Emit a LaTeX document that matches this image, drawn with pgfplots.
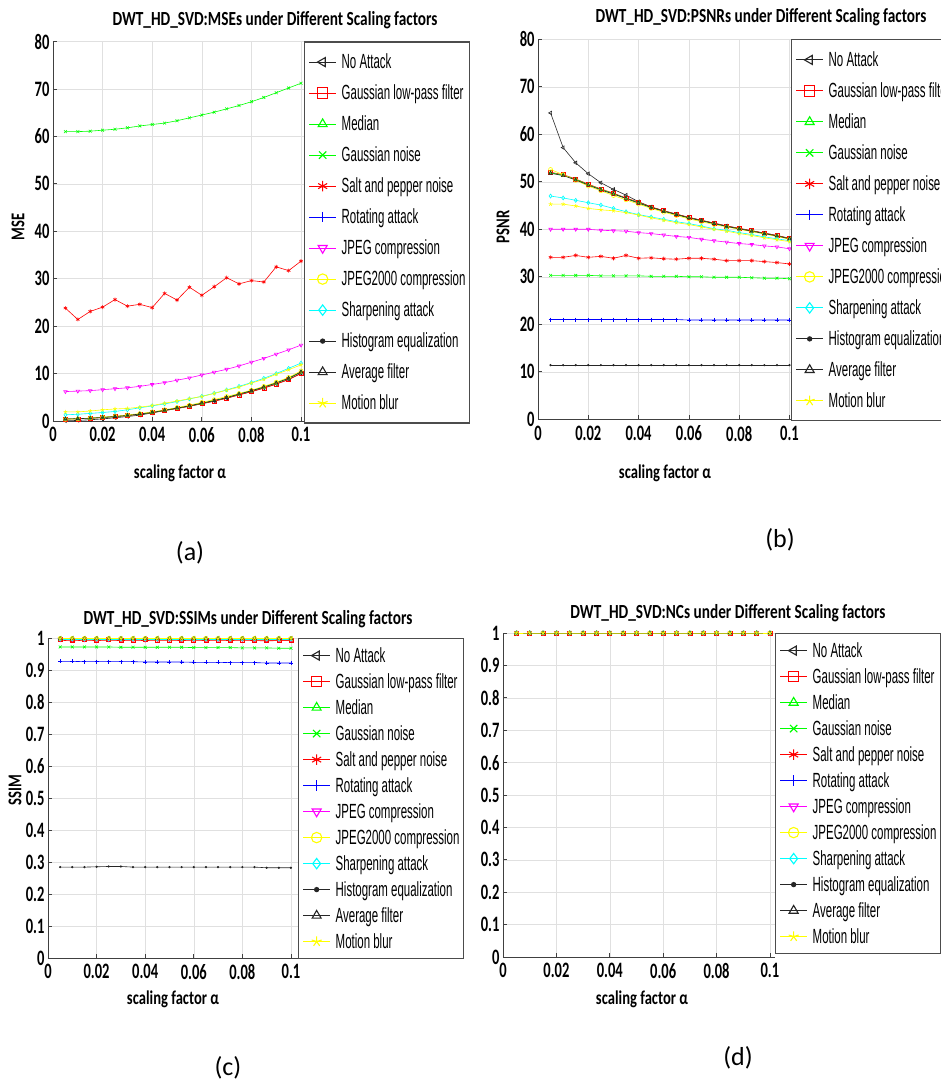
\documentclass[border=0pt]{standalone}
\usepackage{fontspec}
\setmainfont{Carlito}
\newfontfamily\legfont[FakeStretch=0.56]{Liberation Sans}
\newfontfamily\tickfont[FakeStretch=0.66]{Carlito}
\newfontfamily\ttlfont[FakeStretch=0.765]{Carlito}
\newfontfamily\labfont[FakeStretch=0.75]{Carlito}
\usepackage{pgfplots}
\usepackage{pgfplotstable}
\pgfplotsset{compat=1.18}

\definecolor{mred}{rgb}{1,0,0}
\definecolor{mgreen}{rgb}{0,1,0}
\definecolor{mblue}{rgb}{0,0,1}
\definecolor{mmag}{rgb}{1,0,1}
\definecolor{myel}{rgb}{1,1,0}
\definecolor{mcyan}{rgb}{0,1,1}
\definecolor{mblack}{rgb}{0.15,0.15,0.15}

\pgfdeclareplotmark{triL}{%
  \pgfpathmoveto{\pgfqpoint{-\pgfplotmarksize}{0pt}}%
  \pgfpathlineto{\pgfqpoint{.5\pgfplotmarksize}{-.866\pgfplotmarksize}}%
  \pgfpathlineto{\pgfqpoint{.5\pgfplotmarksize}{.866\pgfplotmarksize}}%
  \pgfpathclose\pgfusepathqstroke}
\pgfdeclareplotmark{triD}{%
  \pgfpathmoveto{\pgfqpoint{0pt}{-\pgfplotmarksize}}%
  \pgfpathlineto{\pgfqpoint{.866\pgfplotmarksize}{.5\pgfplotmarksize}}%
  \pgfpathlineto{\pgfqpoint{-.866\pgfplotmarksize}{.5\pgfplotmarksize}}%
  \pgfpathclose\pgfusepathqstroke}

% MSE
\pgfplotstableread{
x     na     lpf   med   gn    sp    rot  jpg   jk    sh    he    av    mb
0.005 0.023  0.41  0.42  61.0  23.8  516  6.2   0.36  1.30  4712  0.43  1.92
0.010 0.124  0.46  0.47  61.0  21.4  516  6.3   0.46  1.42  4712  0.48  1.92
0.015 0.259  0.56  0.58  61.1  23.1  516  6.4   0.61  1.60  4712  0.59  2.10
0.020 0.440  0.72  0.75  61.3  24.0  517  6.6   0.80  1.79  4712  0.76  2.36
0.025 0.681  0.91  0.94  61.5  25.6  517  6.8   1.01  2.01  4712  0.95  2.53
0.030 0.940  1.12  1.16  61.8  24.2  517  7.0   1.27  2.36  4712  1.17  2.65
0.035 1.239  1.41  1.46  62.2  24.6  517  7.3   1.56  2.78  4712  1.47  2.91
0.040 1.711  1.74  1.79  62.5  23.9  518  7.7   1.92  3.19  4712  1.81  3.26
0.045 2.204  2.19  2.26  62.8  26.9  518  8.1   2.36  3.60  4712  2.27  3.74
0.050 2.649  2.63  2.71  63.3  25.5  518  8.6   2.84  4.10  4712  2.72  4.20
0.055 3.112  3.09  3.19  63.9  28.2  518  9.1   3.34  4.65  4712  3.20  4.71
0.060 3.657  3.63  3.74  64.5  26.5  519  9.7   3.92  5.20  4712  3.76  5.17
0.065 4.199  4.17  4.30  65.1  28.3  519  10.3  4.50  5.85  4712  4.31  5.80
0.070 4.821  4.78  4.93  65.8  30.2  519  10.9  5.17  6.55  4712  4.95  6.50
0.075 5.535  5.49  5.66  66.5  28.9  519  11.6  5.80  7.30  4712  5.68  7.13
0.080 6.210  6.17  6.36  67.3  29.6  520  12.4  6.50  8.10  4712  6.38  8.00
0.085 6.968  6.92  7.13  68.2  29.3  520  13.2  7.30  9.00  4712  7.15  8.77
0.090 7.818  7.76  8.00  69.2  32.5  520  14.1  8.19  10.0  4712  8.03  9.85
0.095 8.772  8.71  8.98  70.2  31.7  521  15.0  9.19  11.1  4712  9.01  10.80
0.100 10.07  10.0  10.31 71.2  33.7  521  16.0  10.55 12.2  4712  10.35 11.84
}\tabA

% PSNR
\pgfplotstableread{
x     na    lpf   med   gn    sp    rot   jpg   jk    sh    he    av    mb
0.005 64.5  52.0  51.9  30.3  34.1  21.0  40.0  52.6  47.0  11.4  51.8  45.3
0.010 57.2  51.5  51.4  30.3  34.1  21.0  40.0  51.5  46.6  11.4  51.3  45.3
0.015 54.0  50.6  50.5  30.3  34.5  21.0  40.0  50.3  46.1  11.4  50.4  44.9
0.020 51.7  49.5  49.4  30.3  34.1  21.0  40.0  49.1  45.6  11.4  49.3  44.4
0.025 49.8  48.5  48.4  30.2  34.3  21.0  39.8  48.1  45.1  11.4  48.3  44.1
0.030 48.4  47.6  47.5  30.2  33.9  21.0  39.7  47.1  44.4  11.4  47.4  43.9
0.035 47.2  46.6  46.5  30.2  34.5  21.0  39.6  46.2  43.7  11.4  46.5  43.5
0.040 45.8  45.7  45.6  30.2  33.9  21.0  39.3  45.3  43.1  11.4  45.5  43.0
0.045 44.7  44.7  44.6  30.1  34.0  21.0  39.1  44.4  42.6  11.4  44.6  42.4
0.050 43.9  43.9  43.8  30.1  33.8  21.0  38.8  43.6  42.1  11.4  43.8  41.9
0.055 43.2  43.2  43.1  30.1  33.7  21.0  38.5  42.9  41.6  11.4  43.1  41.4
0.060 42.5  42.5  42.4  30.0  33.9  20.9  38.3  42.2  41.2  11.4  42.4  41.0
0.065 41.9  41.9  41.8  30.0  33.9  20.9  37.9  41.6  40.7  11.4  41.8  40.5
0.070 41.3  41.3  41.2  29.9  33.7  20.9  37.6  41.0  40.1  11.4  41.2  40.0
0.075 40.7  40.7  40.6  29.9  33.4  20.9  37.3  40.5  39.8  11.4  40.6  39.6
0.080 40.2  40.2  40.1  29.9  33.4  20.9  37.0  40.0  39.3  11.4  40.1  39.1
0.085 39.7  39.7  39.6  29.8  33.4  20.9  36.8  39.5  38.9  11.4  39.6  38.7
0.090 39.2  39.2  39.1  29.7  33.2  20.9  36.5  39.0  38.4  11.4  39.1  38.2
0.095 38.7  38.7  38.6  29.7  33.0  20.9  36.3  38.5  38.0  11.4  38.6  37.8
0.100 38.1  38.1  38.0  29.6  32.7  20.9  35.9  37.9  37.6  11.4  38.0  37.4
}\tabB

% SSIM
\pgfplotstableread{
x     na     lpf    med    gn     sp     rot    jpg    jk     sh     he     av     mb
0.005 0.9999 0.995  0.997  0.972  0.993  0.927  0.996  0.999  0.997  0.284  0.998  0.999
0.010 0.9999 0.994  0.997  0.972  0.991  0.927  0.996  0.999  0.997  0.284  0.998  0.999
0.015 0.9999 0.995  0.997  0.972  0.993  0.926  0.996  0.999  0.997  0.284  0.998  0.999
0.020 0.9999 0.994  0.997  0.972  0.992  0.926  0.996  0.999  0.997  0.285  0.998  0.999
0.025 0.9999 0.995  0.997  0.972  0.993  0.926  0.996  0.999  0.997  0.286  0.998  0.999
0.030 0.9999 0.994  0.997  0.971  0.992  0.926  0.996  0.999  0.997  0.286  0.998  0.999
0.035 0.9999 0.994  0.997  0.971  0.993  0.926  0.996  0.999  0.997  0.284  0.998  0.999
0.040 0.9999 0.995  0.997  0.971  0.992  0.925  0.996  0.999  0.997  0.284  0.998  0.999
0.045 0.9999 0.994  0.997  0.971  0.993  0.925  0.996  0.999  0.997  0.284  0.998  0.999
0.050 0.9999 0.994  0.997  0.971  0.993  0.925  0.996  0.999  0.997  0.284  0.998  0.999
0.055 0.9999 0.994  0.997  0.971  0.992  0.925  0.996  0.999  0.997  0.284  0.998  0.999
0.060 0.9999 0.994  0.997  0.970  0.993  0.924  0.996  0.999  0.997  0.284  0.998  0.999
0.065 0.9999 0.994  0.997  0.970  0.992  0.924  0.996  0.999  0.997  0.284  0.998  0.999
0.070 0.9999 0.994  0.997  0.970  0.993  0.924  0.996  0.999  0.997  0.284  0.998  0.999
0.075 0.9999 0.994  0.997  0.970  0.992  0.923  0.996  0.999  0.997  0.284  0.998  0.999
0.080 0.9999 0.994  0.997  0.969  0.993  0.923  0.996  0.999  0.997  0.284  0.998  0.999
0.085 0.9999 0.994  0.997  0.969  0.992  0.923  0.996  0.999  0.997  0.284  0.998  0.999
0.090 0.9999 0.993  0.997  0.969  0.991  0.922  0.996  0.999  0.997  0.282  0.998  0.999
0.095 0.9999 0.993  0.997  0.968  0.992  0.922  0.996  0.999  0.997  0.282  0.998  0.999
0.100 0.9999 0.993  0.997  0.968  0.992  0.922  0.996  0.999  0.997  0.282  0.998  0.999
}\tabC

% NC
\pgfplotstableread{
x     na lpf med gn sp rot jpg jk sh he av mb
0.005 1  1   1   1  1  1   1   1  1  1  1  1
0.010 1  1   1   1  1  1   1   1  1  1  1  1
0.015 1  1   1   1  1  1   1   1  1  1  1  1
0.020 1  1   1   1  1  1   1   1  1  1  1  1
0.025 1  1   1   1  1  1   1   1  1  1  1  1
0.030 1  1   1   1  1  1   1   1  1  1  1  1
0.035 1  1   1   1  1  1   1   1  1  1  1  1
0.040 1  1   1   1  1  1   1   1  1  1  1  1
0.045 1  1   1   1  1  1   1   1  1  1  1  1
0.050 1  1   1   1  1  1   1   1  1  1  1  1
0.055 1  1   1   1  1  1   1   1  1  1  1  1
0.060 1  1   1   1  1  1   1   1  1  1  1  1
0.065 1  1   1   1  1  1   1   1  1  1  1  1
0.070 1  1   1   1  1  1   1   1  1  1  1  1
0.075 1  1   1   1  1  1   1   1  1  1  1  1
0.080 1  1   1   1  1  1   1   1  1  1  1  1
0.085 1  1   1   1  1  1   1   1  1  1  1  1
0.090 1  1   1   1  1  1   1   1  1  1  1  1
0.095 1  1   1   1  1  1   1   1  1  1  1  1
0.100 1  1   1   1  1  1   1   1  1  1  1  1
}\tabD

\newcommand{\allplots}[1]{%
 \addplot[mblack, mark=triL] table[x=x,y=na]{#1};
 \addplot[mred, mark=square] table[x=x,y=lpf]{#1};
 \addplot[mgreen, mark=triangle] table[x=x,y=med]{#1};
 \addplot[mgreen, mark=x] table[x=x,y=gn]{#1};
 \addplot[mred, mark=asterisk] table[x=x,y=sp]{#1};
 \addplot[mblue, mark=+] table[x=x,y=rot]{#1};
 \addplot[mmag, mark=triD] table[x=x,y=jpg]{#1};
 \addplot[myel, mark=o] table[x=x,y=jk]{#1};
 \addplot[mcyan, mark=diamond] table[x=x,y=sh]{#1};
 \addplot[mblack, mark=*, mark size=0.8pt] table[x=x,y=he]{#1};
 \addplot[mblack, mark=triangle] table[x=x,y=av]{#1};
 \addplot[myel, mark=star] table[x=x,y=mb]{#1};
 \legend{No Attack, Gaussian low-pass filter, Median, Gaussian noise, Salt and pepper noise, Rotating attack, JPEG compression, JPEG2000 compression, Sharpening attack, Histogram equalization, Average filter, Motion blur}
}

\pgfplotsset{
  panel/.style={
    scale only axis, anchor=south west, xmin=0, ymin=0,
    axis x line*=bottom, axis y line*=left,
    axis line style={black!75, line width=0.9pt},
    tick style={black!75, line width=0.8pt},
    tick align=inside, major tick length=4pt,
    xmajorgrids, ymajorgrids,
    grid style={black!12, line width=0.5pt},
    xtick={0,0.02,0.04,0.06,0.08,0.1},
    xticklabels={0,0.02,0.04,0.06,0.08,0.1},
    scaled ticks=false,
    tick label style={font=\tickfont\bfseries\fontsize{22}{22}\selectfont},
    xticklabel style={yshift=-3pt},
    label style={font=\labfont\bfseries\fontsize{19.5}{20}\selectfont},
    xlabel={scaling factor α},
    every axis plot/.append style={line width=0.6pt, mark size=2pt},
    legend cell align=left,
    legend style={at={(1,1)}, anchor=north west, draw=black!70, line width=1.2pt, fill=white,
      font=\legfont\fontsize{20.5}{21}\selectfont, row sep=0pt, inner xsep=4pt,
      /tikz/every odd column/.append style={column sep=5pt}},
    legend image code/.code={\draw[mark repeat=2,mark phase=2,line width=1.1pt,mark options={scale=2.6}] plot coordinates {(0pt,0pt) (13.5pt,0pt) (27pt,0pt)};},
  },
  bigleg/.style={legend style={inner ysep=4.5pt, nodes={inner sep=0pt, text height=22pt, text depth=9pt}}},
  smallleg/.style={legend style={inner ysep=4pt, nodes={inner sep=0pt, text height=19.5pt, text depth=6.5pt}}},
}

\begin{document}
\begin{tikzpicture}
\useasboundingbox (0pt,0pt) rectangle (941pt,1082pt);

% (a) MSE
\begin{axis}[panel, bigleg, at={(53pt,661pt)}, width=251pt, height=379.5pt,
  xmax=0.1012, ymax=80, ytick={0,10,...,80}, yticklabels={0,10,20,30,40,50,60,70,80},
  restrict y to domain*=-5:100, ylabel={MSE},
  xlabel style={at={(axis description cs:0.506,-0.137)}, anchor=center},
  ylabel style={at={(axis description cs:-0.139,0.511)}, anchor=center}]
\allplots{\tabA}
\end{axis}

% (b) PSNR
\begin{axis}[panel, bigleg, at={(538pt,662.7pt)}, width=253pt, height=380pt,
  xmax=0.1006, ymax=80, ytick={0,10,...,80}, yticklabels={0,10,20,30,40,50,60,70,80},
  ylabel={PSNR},
  xlabel style={at={(axis description cs:0.502,-0.141)}, anchor=center},
  ylabel style={at={(axis description cs:-0.138,0.506)}, anchor=center}]
\allplots{\tabB}
\end{axis}

% (c) SSIM
\begin{axis}[panel, smallleg, at={(48pt,124pt)}, width=250pt, height=320pt, clip=false,
  xmax=0.1029, ymax=1, ytick={0,0.1,0.2,0.3,0.4,0.5,0.6,0.7,0.8,0.9,1},
  yticklabels={0,0.1,0.2,0.3,0.4,0.5,0.6,0.7,0.8,0.9,1},
  ylabel={SSIM},
  xlabel style={at={(axis description cs:0.5,-0.128)}, anchor=center},
  ylabel style={at={(axis description cs:-0.132,0.525)}, anchor=center}]
\allplots{\tabC}
\end{axis}

% (d) NC
\begin{axis}[panel, smallleg, at={(503pt,125pt)}, width=272pt, height=324pt, clip=false,
  xmax=0.1019, ymax=1, ytick={0,0.1,0.2,0.3,0.4,0.5,0.6,0.7,0.8,0.9,1},
  yticklabels={0,0.1,0.2,0.3,0.4,0.5,0.6,0.7,0.8,0.9,1},
  xlabel style={at={(axis description cs:0.511,-0.130)}, anchor=center}]
\allplots{\tabD}
\end{axis}

% titles
\node[font=\ttlfont\bfseries\fontsize{20}{20}\selectfont] at (275pt,1062pt) {DWT\_HD\_SVD:MSEs under Different Scaling factors};
\node[font=\ttlfont\bfseries\fontsize{20}{20}\selectfont] at (761pt,1065pt) {DWT\_HD\_SVD:PSNRs under Different Scaling factors};
\node[font=\ttlfont\bfseries\fontsize{20}{20}\selectfont] at (248pt,463pt) {DWT\_HD\_SVD:SSIMs under Different Scaling factors};
\node[font=\ttlfont\bfseries\fontsize{20}{20}\selectfont] at (728pt,469pt) {DWT\_HD\_SVD:NCs under Different Scaling factors};

% captions
\node[font=\fontsize{26}{26}\selectfont] at (190pt,529pt) {(a)};
\node[font=\fontsize{26}{26}\selectfont] at (780pt,542pt) {(b)};
\node[font=\fontsize{26}{26}\selectfont] at (228pt,14pt) {(c)};
\node[font=\fontsize{26}{26}\selectfont] at (738pt,24pt) {(d)};
\end{tikzpicture}
\end{document}
